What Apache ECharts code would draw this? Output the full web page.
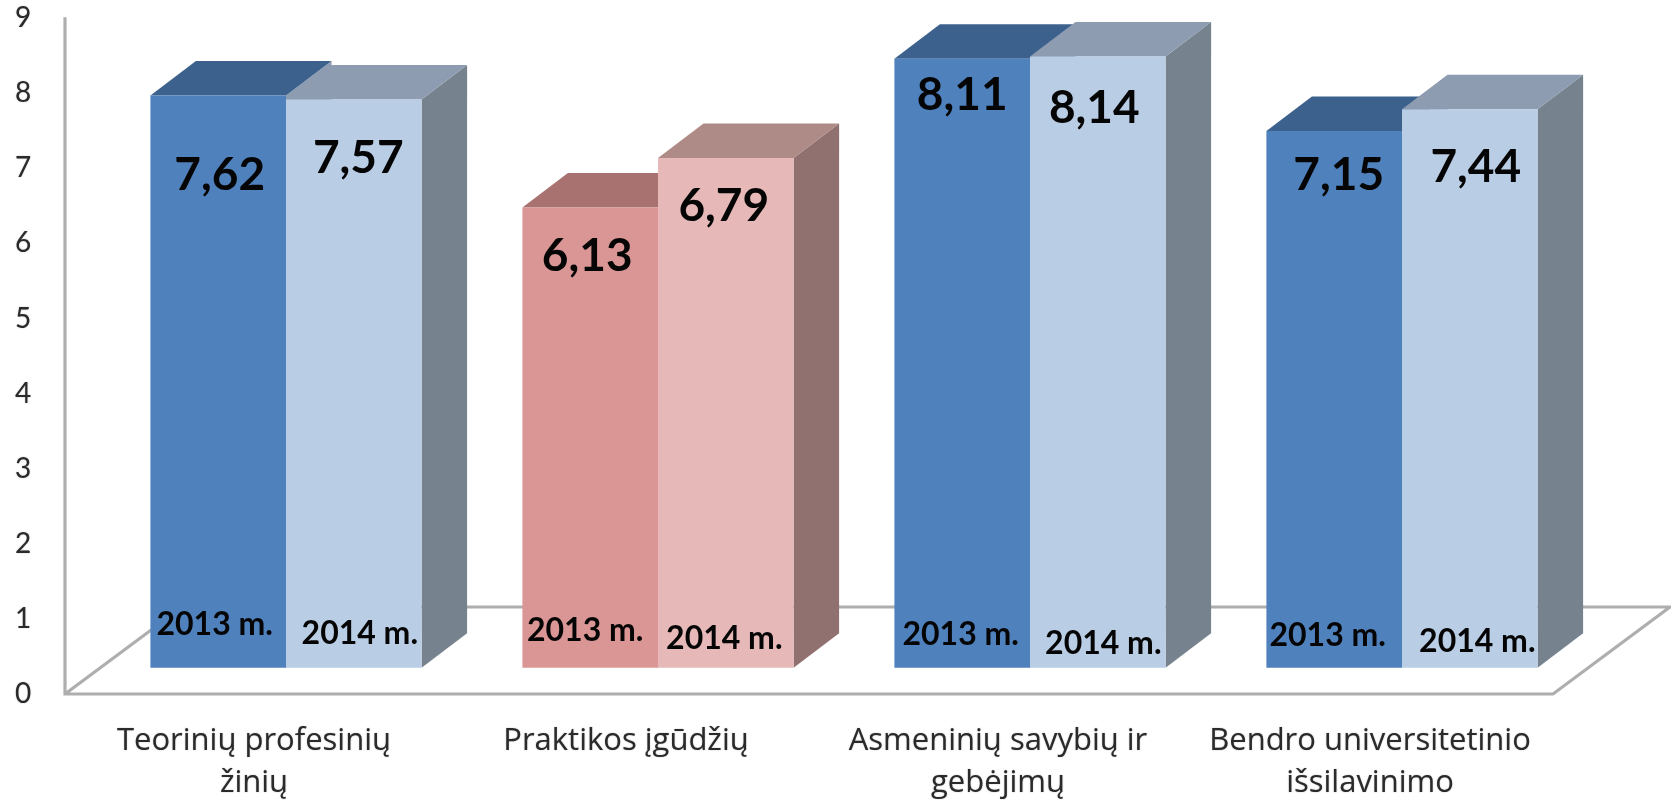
<!DOCTYPE html>
<html>
<head>
<meta charset="utf-8">
<style>html,body{margin:0;padding:0;background:#fff}#c{width:1671px;height:804px}</style>
<script src="https://cdn.jsdelivr.net/npm/echarts@6/dist/echarts.min.js"></script>
</head>
<body>
<div id="c"></div>
<script>
const categories = ['Teorinių profesinių\nžinių', 'Praktikos įgūdžių', 'Asmeninių savybių ir\ngebėjimų', 'Bendro universitetinio\nišsilavinimo'];
const values2013 = [7.62, 6.13, 8.11, 7.15];
const values2014 = [7.57, 6.79, 8.14, 7.44];
const yearLabel2013 = '2013 m.';
const yearLabel2014 = '2014 m.';
const yTicks = [0, 1, 2, 3, 4, 5, 6, 7, 8, 9];

// Layout of the hand-placed labels, relative to each bar
const valueNudge2013 = [[1.5, 80], [-3, 49], [0, 36], [4.5, 44.5]];
const valueNudge2014 = [[4.5, 59], [-2, 48], [-3.5, 52], [6, 58]];
const yearNudge2013 = [[-3.5, 43], [-5, 37], [-1.5, 33], [-6.5, 32]];
const yearNudge2014 = [[6, 34], [-1.5, 29], [5.5, 24], [7.5, 26]];

const FONT = 'Lato, "Noto Sans", sans-serif';
const BLUE = {front13: '#4F81BD', top13: '#3C618C', front14: '#B9CDE5', top14: '#8D9CB0', side: '#76838F'};
const PINK = {front13: '#D99694', top13: '#A77270', front14: '#E6B9B8', top14: '#AF8B88', side: '#917170'};
const groupColors = [BLUE, PINK, BLUE, BLUE];

const FRONT_SHIFT = 26.2;   // front plane of the bars above the floor's front edge
const DEPTH_X = 45.5, DEPTH_Y = 34.5;
const BAR_RATIO = 0.3645;
const SOFT = {shadowBlur: 2, shadowColor: 'rgba(0,0,0,0.35)'};

function barRenderer(seriesIndex, nudgeValue, nudgeYear, yearLabel) {
  return function (params, api) {
    const i = api.value(0), v = api.value(1);
    const c = groupColors[i];
    const band = api.size([1, 0])[0];
    const w = band * BAR_RATIO;
    const p = api.coord([i, v]);
    const b = api.coord([i, 0]);
    const x0 = seriesIndex === 0 ? p[0] - w : p[0];
    const x1 = x0 + w;
    const top = p[1] - FRONT_SHIFT, base = b[1] - FRONT_SHIFT;
    const sideFill = seriesIndex === 0 ? c.top14 : c.side;
    const children = [
      {type: 'polygon', shape: {points: [[x1, top], [x1 + DEPTH_X, top - DEPTH_Y], [x1 + DEPTH_X, base - DEPTH_Y], [x1, base]]}, style: {fill: sideFill}},
      {type: 'polygon', shape: {points: [[x0, top], [x0 + DEPTH_X, top - DEPTH_Y], [x1 + DEPTH_X, top - DEPTH_Y], [x1, top]]}, style: {fill: seriesIndex === 0 ? c.top13 : c.top14}},
      {type: 'rect', shape: {x: x0, y: top, width: w, height: base - top}, style: {fill: seriesIndex === 0 ? c.front13 : c.front14}}
    ];
    const cx = (x0 + x1) / 2;
    children.push({type: 'text', style: Object.assign({x: cx + nudgeValue[i][0], y: top + nudgeValue[i][1], text: v.toFixed(2).replace('.', ','), fill: '#050505', font: 'bold 46px ' + FONT, align: 'center', verticalAlign: 'middle'}, SOFT)});
    children.push({type: 'text', style: Object.assign({x: cx + nudgeYear[i][0], y: base - nudgeYear[i][1], text: yearLabel, fill: '#050505', font: 'bold 32px ' + FONT, align: 'center', verticalAlign: 'middle'}, SOFT)});
    return {type: 'group', children};
  };
}

function frameRenderer(params, api) {
  const cs = params.coordSys;
  const o = api.coord([0, 0]);
  const floorY = o[1];
  const left = cs.x - 35, right = cs.x + cs.width - 35;
  const dx = 117, dy = 87;
  const line = {fill: null, stroke: '#AEAEAE', lineWidth: 3.2};
  return {type: 'group', children: [
    {type: 'polyline', shape: {points: [[left, cs.y - 1], [left, floorY], [right, floorY], [right + dx, floorY - dy], [left + dx, floorY - dy], [left, floorY]]}, style: line}
  ]};
}

const chart = echarts.init(document.getElementById('c'), null, {renderer: 'canvas'});
chart.setOption({
  animation: false,
  backgroundColor: '#fff',
  grid: {left: 100, width: 1488, top: 18.2, height: 681.3, containLabel: false},
  xAxis: {
    type: 'category', data: categories,
    axisLine: {show: false}, axisTick: {show: false}, splitLine: {show: false},
    axisLabel: {color: '#2a2a2a', fontFamily: '"Open Sans", sans-serif', fontSize: 31, lineHeight: 42, margin: 26, padding: [0, 64, 0, 0], interval: 0, hideOverlap: false, textShadowColor: 'rgba(0,0,0,0.3)', textShadowBlur: 1.5}
  },
  yAxis: {
    type: 'value', min: yTicks[0], max: yTicks[yTicks.length - 1], interval: 1,
    axisLine: {show: false}, axisTick: {show: false}, splitLine: {show: false},
    axisLabel: {color: '#2a2a2a', fontFamily: FONT, fontSize: 28, margin: 77, align: 'center', padding: [3, 0, 0, 0], textShadowColor: 'rgba(0,0,0,0.3)', textShadowBlur: 1.5}
  },
  series: [
    {type: 'custom', name: 'frame', coordinateSystem: 'cartesian2d', clip: false, silent: true, renderItem: frameRenderer, data: [[0, 0]], z: 1},
    {type: 'custom', name: '2013', coordinateSystem: 'cartesian2d', clip: false, silent: true, encode: {x: 0, y: 1}, z: 2,
      renderItem: barRenderer(0, valueNudge2013, yearNudge2013, yearLabel2013), data: values2013.map((v, i) => [i, v])},
    {type: 'custom', name: '2014', coordinateSystem: 'cartesian2d', clip: false, silent: true, encode: {x: 0, y: 1}, z: 3,
      renderItem: barRenderer(1, valueNudge2014, yearNudge2014, yearLabel2014), data: values2014.map((v, i) => [i, v])}
  ]
});
</script>
</body>
</html>
